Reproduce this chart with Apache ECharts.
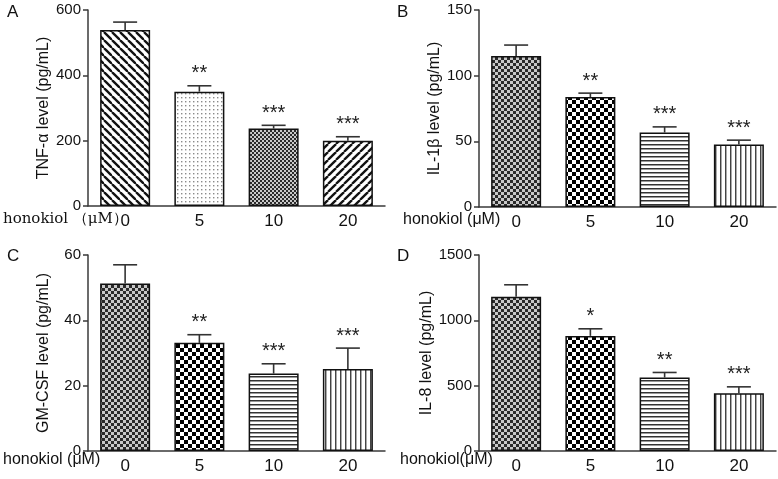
<!DOCTYPE html>
<html>
<head>
<meta charset="utf-8">
<script src="https://cdn.jsdelivr.net/npm/echarts@6/dist/echarts.min.js"></script>
<style>
html,body{margin:0;padding:0;background:#fff;}
#chart{width:778px;height:479px;}
</style>
</head>
<body>
<div id="chart"></div>
<script>
// ---- data ----
const categories = ['0', '5', '10', '20'];
const tnfMean  = [539, 350, 237, 200];
const tnfUpper = [563, 368, 247, 212];
const tnfStars = ['', '**', '***', '***'];
const il1bMean  = [115, 83.7, 56.7, 47.6];
const il1bUpper = [123.3, 86.7, 61, 50.9];
const il1bStars = ['', '**', '***', '***'];
const gmMean  = [51.3, 33.1, 23.7, 25.1];
const gmUpper = [57.0, 35.6, 26.7, 31.5];
const gmStars = ['', '**', '***', '***'];
const il8Mean  = [1180, 881, 562, 442];
const il8Upper = [1272, 935, 601, 491];
const il8Stars = ['', '*', '**', '***'];
const yMaxes = [600, 150, 60, 1500];
const yIntervals = [200, 50, 20, 500];
const yNames = ['TNF-\u03b1 level (pg/mL)', 'IL-1\u03b2 level (pg/mL)', 'GM-CSF level (pg/mL)', 'IL-8 level (pg/mL)'];

// ---- patterns ----
function tile(w, h, draw) {
  const c = document.createElement('canvas');
  c.width = w; c.height = h;
  const g = c.getContext('2d');
  g.fillStyle = '#fff'; g.fillRect(0, 0, w, h);
  draw(g, w, h);
  return { image: c, repeat: 'repeat' };
}
function diag(dir) {
  return tile(8, 8, (g, w, h) => {
    g.strokeStyle = '#111'; g.lineWidth = 2.3;
    for (let k = -1; k <= 1; k++) {
      g.beginPath();
      if (dir > 0) { g.moveTo(k * w, 0); g.lineTo(k * w + w, h); }
      else { g.moveTo(k * w, h); g.lineTo(k * w + w, 0); }
      g.stroke();
    }
  });
}
const patBack = diag(1);
const patSlash = diag(-1);
const patDots = tile(4, 4, (g) => { g.fillStyle = '#8a8a8a'; g.fillRect(1, 1, 1.4, 1.4); });
function checker(s, a, b) {
  return tile(2 * s, 2 * s, (g) => {
    g.fillStyle = b; g.fillRect(0, 0, 2 * s, 2 * s);
    g.fillStyle = a; g.fillRect(0, 0, s, s); g.fillRect(s, s, s, s);
  });
}
const patFine2 = checker(2, '#2a2a2a', '#c8c8c8');
const patFine3 = checker(3, '#2a2a2a', '#c8c8c8');
const patCoarse = checker(4, '#000', '#fff');
const patHoriz = tile(4, 4, (g) => { g.fillStyle = '#333'; g.fillRect(0, 0, 4, 1); g.fillStyle = '#999'; g.fillRect(0, 1, 4, 1); });
const patVert = tile(5, 5, (g) => { g.fillStyle = '#444'; g.fillRect(0, 0, 1, 5); g.fillStyle = '#aaa'; g.fillRect(1, 0, 1, 5); });

const panelPatterns = [
  [patBack, patDots, patFine2, patSlash],
  [patFine3, patCoarse, patHoriz, patVert],
  [patFine3, patCoarse, patHoriz, patVert],
  [patFine3, patCoarse, patHoriz, patVert]
];
const means = [tnfMean, il1bMean, gmMean, il8Mean];
const uppers = [tnfUpper, il1bUpper, gmUpper, il8Upper];
const stars = [tnfStars, il1bStars, gmStars, il8Stars];

const grids = [
  { left: 88, top: 10, width: 297, height: 196 },
  { left: 479, top: 10, width: 297, height: 197 },
  { left: 88, top: 255, width: 297, height: 196 },
  { left: 479, top: 255, width: 297, height: 196 }
];

const FONT = '"Liberation Sans", Arial, sans-serif';
const axisColor = '#3a3a3a';

const xAxis = grids.map((g, i) => ({
  type: 'category', gridIndex: i, data: categories,
  axisLine: { lineStyle: { color: axisColor, width: 1.5 } },
  axisTick: { show: false },
  axisLabel: { color: '#111', fontSize: 17, fontFamily: FONT, margin: 7 }
}));
const yAxis = grids.map((g, i) => ({
  type: 'value', gridIndex: i, min: 0, max: yMaxes[i], interval: yIntervals[i],
  name: yNames[i], nameLocation: 'middle', nameGap: 36, nameRotate: 90,
  nameTextStyle: { color: '#111', fontSize: 16, fontFamily: FONT },
  axisLine: { show: true, lineStyle: { color: axisColor, width: 1.5 } },
  axisTick: { show: true, length: 5, lineStyle: { color: axisColor, width: 1.5 } },
  axisLabel: { color: '#111', fontSize: 15, fontFamily: FONT, margin: 7, formatter: (v) => String(v) },
  splitLine: { show: false }
}));

const series = [];
for (let i = 0; i < 4; i++) {
  series.push({
    type: 'bar', xAxisIndex: i, yAxisIndex: i, barWidth: 50,
    data: means[i].map((v, k) => ({ value: v, itemStyle: { color: panelPatterns[i][k] } })),
    itemStyle: { borderColor: '#111', borderWidth: 1.5 },
    z: 2
  });
  const st = stars[i];
  series.push({
    type: 'custom', xAxisIndex: i, yAxisIndex: i, z: 5,
    data: means[i].map((v, k) => [k, v, uppers[i][k]]),
    renderItem: function (params, api) {
      const k = api.value(0);
      const p0 = api.coord([k, api.value(1)]);
      const p1 = api.coord([k, api.value(2)]);
      const hw = 12;
      const style = { stroke: '#333', lineWidth: 1.6 };
      return {
        type: 'group',
        children: [
          { type: 'line', shape: { x1: p0[0], y1: p0[1], x2: p1[0], y2: p1[1] }, style: style },
          { type: 'line', shape: { x1: p1[0] - hw, y1: p1[1], x2: p1[0] + hw, y2: p1[1] }, style: style },
          { type: 'text', style: { text: st[k], x: p1[0], y: p1[1] - 12, align: 'center', verticalAlign: 'middle',
            fill: '#222', font: '20px ' + FONT } }
        ]
      };
    }
  });
}

const graphic = [
  { type: 'text', left: 7, top: 4, style: { text: 'A', fill: '#111', font: '17px ' + FONT } },
  { type: 'text', left: 397, top: 4, style: { text: 'B', fill: '#111', font: '17px ' + FONT } },
  { type: 'text', left: 7, top: 248, style: { text: 'C', fill: '#111', font: '17px ' + FONT } },
  { type: 'text', left: 397, top: 248, style: { text: 'D', fill: '#111', font: '17px ' + FONT } },
  { type: 'text', left: 3, top: 212, style: { text: 'honokiol \uff08\u03bcM\uff09', fill: '#111', font: '15px "DejaVu Serif", "Liberation Serif", serif' } },
  { type: 'text', left: 403, top: 212, style: { text: 'honokiol (\u03bcM)', fill: '#111', font: '16px ' + FONT } },
  { type: 'text', left: 3, top: 452, style: { text: 'honokiol (\u03bcM)', fill: '#111', font: '16px ' + FONT } },
  { type: 'text', left: 400, top: 452, style: { text: 'honokiol(\u03bcM)', fill: '#111', font: '16px ' + FONT } }
];

const chart = echarts.init(document.getElementById('chart'));
chart.setOption({
  animation: false,
  backgroundColor: '#fff',
  grid: grids,
  xAxis: xAxis,
  yAxis: yAxis,
  series: series,
  graphic: graphic
});
</script>
</body>
</html>
